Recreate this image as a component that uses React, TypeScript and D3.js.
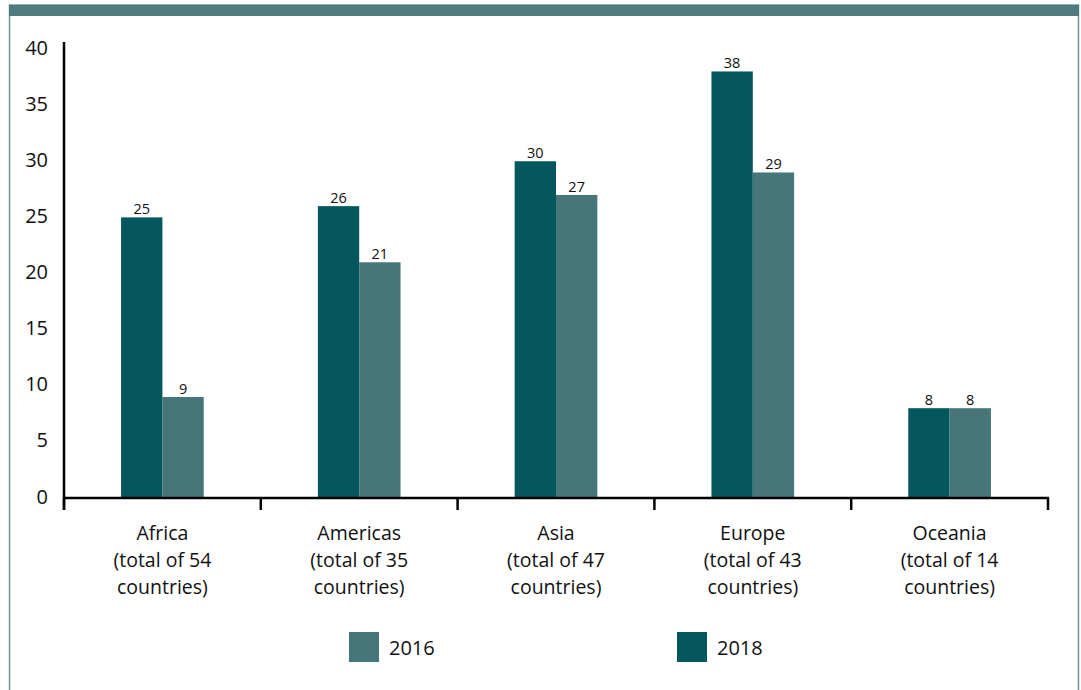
import React from "react";
import * as d3 from "d3";

const categories = ["Africa", "Americas", "Asia", "Europe", "Oceania"];
const categoryTotals = ["(total of 54", "(total of 35", "(total of 47", "(total of 43", "(total of 14"];
const series = ["2018", "2016"];
const values2018 = [25, 26, 30, 38, 8];
const values2016 = [9, 21, 27, 29, 8];
const yTicks = [0, 5, 10, 15, 20, 25, 30, 35, 40];
const legendOrder = ["2016", "2018"];

const W = 1081;
const H = 690;
const FONT = "'Open Sans', 'Noto Sans', sans-serif";
const colors: Record<string, string> = { "2018": "#03575d", "2016": "#46757a" };

export default function App() {
  const left = 64, right = 1048, y0 = 498, yTop = 49;
  const x = d3.scaleBand<string>().domain(categories).range([left, right]).paddingInner(0).paddingOuter(0);
  const y = d3.scaleLinear().domain([0, 40]).range([y0, yTop]);
  const barW = x.bandwidth() * 0.21;
  const xs = d3.scaleBand<string>().domain(series).range([0, barW * 2]);
  const valuesBy: Record<string, number[]> = { "2018": values2018, "2016": values2016 };
  const boundaries = d3.range(categories.length + 1).map((i) => left + i * x.step());

  return (
    <svg width={W} height={H} style={{ position: "absolute", left: 0, top: 0, background: "#fff" }} fontFamily={FONT}>
      <rect x={9.5} y={5} width={1069} height={H + 10} fill="none" stroke="#6d979b" strokeWidth={1.5} />
      <rect x={9} y={5} width={1070} height={11} fill="#4f7b80" />
      {/* y axis */}
      <line x1={left} x2={left} y1={42} y2={y0 + 12} stroke="#000" strokeWidth={2.5} />
      {yTicks.map((t) => (
        <text key={t} x={48} y={y(t) - 2} textAnchor="end" dominantBaseline="central" fontSize={20} fill="#111">
          {t}
        </text>
      ))}
      {/* bars */}
      {series.map((s) =>
        categories.map((c, i) => {
          const v = valuesBy[s][i];
          const bx = (x(c) as number) + x.bandwidth() / 2 - barW + (xs(s) as number);
          return (
            <g key={s + c}>
              <rect x={bx} y={y(v)} width={xs.bandwidth()} height={y0 - y(v)} fill={colors[s]} />
              <text x={bx + xs.bandwidth() / 2} y={y(v) - 3} textAnchor="middle" fontSize={14.5} fill="#111">
                {v}
              </text>
            </g>
          );
        })
      )}
      {/* x axis */}
      <line x1={left} x2={right + 1} y1={y0} y2={y0} stroke="#000" strokeWidth={2.5} />
      {boundaries.map((b, i) => (
        <line key={i} x1={b} x2={b} y1={y0} y2={y0 + 12} stroke="#000" strokeWidth={2.5} />
      ))}
      {categories.map((c, i) => {
        const cx = (x(c) as number) + x.bandwidth() / 2;
        return (
          <text key={c} x={cx} textAnchor="middle" fontSize={19.5} fill="#111">
            <tspan x={cx} y={540}>{c}</tspan>
            <tspan x={cx} y={567}>{categoryTotals[i]}</tspan>
            <tspan x={cx} y={594}>countries)</tspan>
          </text>
        );
      })}
      {/* legend */}
      {legendOrder.map((s, i) => {
        const lx = i === 0 ? 349 : 677;
        return (
          <g key={s}>
            <rect x={lx} y={632} width={30} height={30} fill={colors[s]} />
            <text x={lx + 40} y={647} dominantBaseline="central" fontSize={20} fill="#111">
              {s}
            </text>
          </g>
        );
      })}
    </svg>
  );
}
